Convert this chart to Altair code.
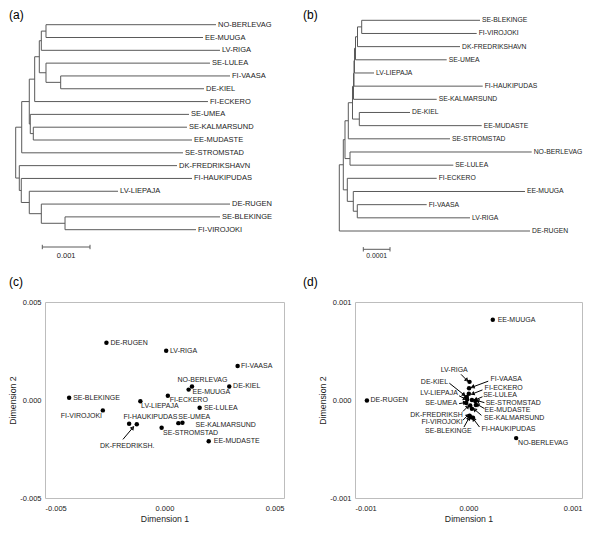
import math
import altair as alt
import pandas as pd

FONT = "Liberation Sans"
TXT = "#222222"

# ---------------- Tree (a): leaves top to bottom, distance from root ----------------
a_leaves = ["NO-BERLEVAG", "EE-MUUGA", "LV-RIGA", "SE-LULEA", "FI-VAASA", "DE-KIEL",
            "FI-ECKERO", "SE-UMEA", "SE-KALMARSUND", "EE-MUDASTE", "SE-STROMSTAD",
            "DK-FREDRIKSHAVN", "FI-HAUKIPUDAS", "LV-LIEPAJA", "DE-RUGEN", "SE-BLEKINGE",
            "FI-VIROJOKI"]
a_leaf_depth = [0.004199, 0.003927, 0.004283, 0.004073, 0.004493, 0.003948,
                0.004031, 0.003633, 0.003591, 0.003696, 0.003507,
                0.003382, 0.003696, 0.002145, 0.004493, 0.004283, 0.003780]
a_nodes = ["n1", "n4", "n3", "n2", "n5", "n6", "n7", "n8", "n9", "n10",
           "n15", "n14", "n13", "n12", "n11", "root"]
a_node_depth = [0.000635, 0.000943, 0.000635, 0.000537, 0.000495, 0.000398, 0.000369,
                0.000306, 0.000285, 0.000126, 0.001034, 0.000537, 0.000285, 0.000117,
                0.0000755, 0.0]
a_node_children = [["NO-BERLEVAG", "EE-MUUGA"], ["FI-VAASA", "DE-KIEL"], ["SE-LULEA", "n4"],
                   ["n1", "LV-RIGA"], ["n2", "n3"], ["n5", "FI-ECKERO"],
                   ["SE-KALMARSUND", "EE-MUDASTE"], ["SE-UMEA", "n7"], ["n6", "n8"],
                   ["n9", "SE-STROMSTAD"], ["SE-BLEKINGE", "FI-VIROJOKI"], ["DE-RUGEN", "n15"],
                   ["LV-LIEPAJA", "n14"], ["FI-HAUKIPUDAS", "n13"], ["DK-FREDRIKSHAVN", "n12"],
                   ["n10", "n11"]]
a_scale_len = 0.001
a_scale_label = "0.001"

# ---------------- Tree (b) ----------------
b_leaves = ["SE-BLEKINGE", "FI-VIROJOKI", "DK-FREDRIKSHAVN", "SE-UMEA", "LV-LIEPAJA",
            "FI-HAUKIPUDAS", "SE-KALMARSUND", "DE-KIEL", "EE-MUDASTE", "SE-STROMSTAD",
            "NO-BERLEVAG", "SE-LULEA", "FI-ECKERO", "EE-MUUGA", "FI-VAASA", "LV-RIGA",
            "DE-RUGEN"]
b_leaf_depth = [5.270e-4, 5.146e-4, 4.521e-4, 4.022e-4, 1.300e-4, 5.371e-4, 3.648e-4,
                2.648e-4, 5.333e-4, 4.146e-4, 7.206e-4, 4.270e-4, 3.648e-4, 6.955e-4,
                3.273e-4, 4.895e-4, 7.142e-4]
b_nodes = ["m1", "m2", "p1", "p2", "p3", "k1", "p4", "p5", "u", "l1", "l2",
           "vr", "mu", "mlow", "x", "root"]
b_node_depth = [8.39e-5, 6.82e-5, 6.07e-5, 5.69e-5, 5.51e-5, 7.49e-5, 5.32e-5, 4.94e-5,
                3.37e-5, 4.01e-5, 2.13e-5, 6.74e-5, 5.24e-5, 3.00e-5, 1.50e-5, 0.0]
b_node_children = [["SE-BLEKINGE", "FI-VIROJOKI"], ["m1", "DK-FREDRIKSHAVN"], ["m2", "SE-UMEA"],
                   ["p1", "LV-LIEPAJA"], ["p2", "FI-HAUKIPUDAS"], ["DE-KIEL", "EE-MUDASTE"],
                   ["p3", "SE-KALMARSUND"], ["p4", "k1"], ["p5", "SE-STROMSTAD"],
                   ["NO-BERLEVAG", "SE-LULEA"], ["u", "l1"], ["FI-VAASA", "LV-RIGA"],
                   ["EE-MUUGA", "vr"], ["FI-ECKERO", "mu"], ["l2", "mlow"], ["x", "DE-RUGEN"]]
b_scale_len = 0.0001
b_scale_label = "0.0001"

# ---------------- MDS (c) ----------------
c_names = ["DE-RUGEN", "LV-RIGA", "FI-VAASA", "NO-BERLEVAG", "EE-MUUGA", "DE-KIEL",
           "SE-BLEKINGE", "FI-ECKERO", "LV-LIEPAJA", "SE-LULEA", "FI-VIROJOKI",
           "FI-HAUKIPUDAS", "DK-FREDRIKSH.", "SE-UMEA", "SE-KALMARSUND", "SE-STROMSTAD",
           "EE-MUDASTE"]
c_dim1 = [-0.00243, 0.00007, 0.00306, 0.00115, 0.00101, 0.00271, -0.00399, 0.00014,
          -0.00101, 0.00147, -0.00258, -0.00148, -0.00116, 0.00058, 0.00075, -0.00012, 0.00185]
c_dim2 = [0.00292, 0.00251, 0.00173, 0.00069, 0.00053, 0.00069, 0.00011, 0.00022,
          -0.00006, -0.00040, -0.00053, -0.00121, -0.00124, -0.00118, -0.00116, -0.00142, -0.00211]
# label anchor (left edge of text)
c_lab1 = [-0.00226, 0.00023, 0.00320, 0.00054, 0.00117, 0.00287, -0.00382, 0.00022,
          -0.00098, 0.00165, -0.00434, -0.00172, -0.00270, 0.00058, 0.00130, -0.00006, 0.00206]
c_lab2 = [0.00292, 0.00251, 0.00173, 0.00100, 0.00040, 0.00069, 0.00011, -0.00001,
          -0.00033, -0.00040, -0.00082, -0.00085, -0.00233, -0.00085, -0.00128, -0.00167, -0.00211]
c_arrow = {"x": [-0.00174], "y": [-0.00201], "x2": [-0.00133], "y2": [-0.00142]}

# ---------------- MDS (d) ----------------
d_names = ["EE-MUUGA", "DE-RUGEN", "NO-BERLEVAG", "LV-RIGA", "FI-VAASA", "FI-ECKERO",
           "DE-KIEL", "LV-LIEPAJA", "SE-LULEA", "SE-STROMSTAD", "SE-UMEA", "EE-MUDASTE",
           "DK-FREDRIKSH", "SE-KALMARSUND", "FI-VIROJOKI", "SE-BLEKINGE", "FI-HAUKIPUDAS"]
d_dim1 = [0.000214, -0.000895, 0.000420, 0.000009, 0.000005, 0.000003, -0.000015, -0.000012,
          0.000030, 0.000060, -0.000020, 0.000065, 0.000015, 0.000030, 0.000010, 0.000020, 0.000040]
d_dim2 = [0.000818, -0.000004, -0.000389, 0.000185, 0.000120, 0.000063, 0.000030, 0.000005,
          0.000000, -0.000010, -0.000030, -0.000050, -0.000055, -0.000090, -0.000160, -0.000175, -0.000180]
d_lab1 = [0.000257, -0.000863, 0.000437, -0.000126, 0.000194, 0.000142, -0.000180, -0.000094,
          0.000129, 0.000151, -0.000100, 0.000142, -0.000051, 0.000137, -0.000051, 0.000028, 0.000114]
d_lab2 = [0.000818, -0.000004, -0.000439, 0.000302, 0.000212, 0.000123, 0.000185, 0.000073,
          0.000046, -0.000027, -0.000030, -0.000107, -0.000154, -0.000179, -0.000226, -0.000313, -0.000296]
d_lab_align = ["left", "left", "left", "center", "left", "left", "right", "right", "left",
               "left", "right", "left", "right", "left", "right", "right", "left"]
d_arrow_names = ["LV-RIGA", "FI-VAASA", "FI-ECKERO", "SE-LULEA", "SE-STROMSTAD", "EE-MUDASTE",
                 "SE-KALMARSUND", "FI-HAUKIPUDAS", "DE-KIEL", "LV-LIEPAJA", "SE-UMEA",
                 "DK-FREDRIKSH", "FI-VIROJOKI", "SE-BLEKINGE"]
d_arr_x1 = [-0.000066, 0.000174, 0.000123, 0.000123, 0.000140, 0.000140, 0.000114, 0.000097,
            -0.000169, -0.000083, -0.000083, -0.000049, -0.000049, -0.000040]
d_arr_y1 = [0.000262, 0.000192, 0.000103, 0.000033, -0.000027, -0.000087, -0.000157, -0.000276,
            0.000172, 0.000043, -0.000037, -0.000117, -0.000206, -0.000276]
d_arr_x2 = [-0.000015, 0.000037, 0.000037, 0.000063, 0.000080, 0.000080, 0.000054, 0.000045,
            -0.000040, -0.000032, -0.000032, -0.000006, -0.000006, 0.000003]
d_arr_y2 = [0.000202, 0.000133, 0.000063, 0.000003, -0.000007, -0.000047, -0.000097, -0.000196,
            0.000053, 0.000013, -0.000027, -0.000067, -0.000156, -0.000186]

# ---------------- layout (page pixels) ----------------
X0, Y0 = 45.0, 13.0          # expected page position of the first panel's plot area
W1, W2, H1, H2 = 239, 227, 251, 196
SC, SR = 71, 36
COL2 = X0 + W1 + SC
ROW2 = Y0 + H1 + SR


def lin(p0, v0, p1, v1, p):
    return v0 + (p - p0) * (v1 - v0) / (p1 - p0)


def tree_panel(leaves, leaf_depth, nodes, node_depth, children, px_root, px_unit, unit,
               py_first, py_last, left, fs, bar_px, bar_py, lab_py, bar_len, bar_label,
               title, title_dx, width):
    depth = dict(zip(leaves, leaf_depth))
    depth.update(zip(nodes, node_depth))
    ypos = {n: float(i) for i, n in enumerate(leaves)}
    for n, ch in zip(nodes, children):
        ypos[n] = (ypos[ch[0]] + ypos[ch[-1]]) / 2
    segs = []
    for n, ch in zip(nodes, children):
        segs.append(dict(x=depth[n], x2=depth[n], y=ypos[ch[0]], y2=ypos[ch[-1]]))
        for c in ch:
            segs.append(dict(x=depth[n], x2=depth[c], y=ypos[c], y2=ypos[c]))
    seg_df = pd.DataFrame(segs)
    leaf_df = pd.DataFrame({"name": leaves, "x": leaf_depth, "y": list(range(len(leaves)))})

    xdom = [lin(px_root, 0, px_root + px_unit, unit, left),
            lin(px_root, 0, px_root + px_unit, unit, left + width)]
    n = len(leaves) - 1
    ydom = [lin(py_first, 0, py_last, n, Y0 + H1), lin(py_first, 0, py_last, n, Y0)]
    xs = alt.Scale(domain=xdom, nice=False, zero=False)
    ys = alt.Scale(domain=ydom, nice=False, zero=False)

    bx = lin(px_root, 0, px_root + px_unit, unit, bar_px)
    by = lin(py_first, 0, py_last, n, bar_py)
    ly = lin(py_first, 0, py_last, n, lab_py)
    tk = lin(py_first, 0, py_last, n, bar_py + 2.2) - by
    bar_df = pd.DataFrame({"x": [bx], "x2": [bx + bar_len], "y": [by]})
    end_df = pd.DataFrame({"x": [bx, bx + bar_len], "y": [by - tk] * 2, "y2": [by + tk] * 2})
    lab_df = pd.DataFrame({"x": [bx + bar_len / 2], "y": [ly], "t": [bar_label]})

    X = lambda f="x": alt.X(f"{f}:Q", scale=xs, axis=None)
    Y = lambda f="y": alt.Y(f"{f}:Q", scale=ys, axis=None)
    rules = alt.Chart(seg_df).mark_rule(color="#5a5a5a", strokeWidth=1).encode(
        x=X(), x2="x2:Q", y=Y(), y2="y2:Q")
    labels = alt.Chart(leaf_df).mark_text(align="left", baseline="middle", dx=2, fontSize=fs,
                                          font=FONT, color=TXT).encode(x=X(), y=Y(), text="name:N")
    bar = alt.Chart(bar_df).mark_rule(color="#5a5a5a", strokeWidth=1).encode(x=X(), x2="x2:Q", y=Y())
    ends = alt.Chart(end_df).mark_rule(color="#5a5a5a", strokeWidth=1).encode(x=X(), y=Y(), y2="y2:Q")
    blab = alt.Chart(lab_df).mark_text(align="center", baseline="middle", fontSize=fs,
                                       font=FONT, color=TXT).encode(x=X(), y=Y(), text="t:N")
    return alt.layer(rules, labels, bar, ends, blab).properties(
        width=width, height=H1,
        title=alt.TitleParams(title, anchor="start", frame="group", dx=title_dx, offset=-7,
                              fontSize=12, fontWeight="normal", font=FONT, color="black"),
        view=alt.ViewBackground(stroke="transparent"))


tree_a = tree_panel(a_leaves, a_leaf_depth, a_nodes, a_node_depth, a_node_children,
                    15.7, 47.7, 0.001, 22.7, 227.7, X0, 7.5, 42.3, 245.0, 254.0,
                    a_scale_len, a_scale_label, "(a)", 9 - X0, W1)
tree_b = tree_panel(b_leaves, b_leaf_depth, b_nodes, b_node_depth, b_node_children,
                    339.3, 26.7, 0.0001, 18.3, 229.0, COL2, 6.8, 363.3, 247.3, 254.0,
                    b_scale_len, b_scale_label, "(b)", 303 - COL2, W2)


def axis(title, vals, label_pad, title_pad):
    return alt.Axis(values=vals, title=title, grid=False, ticks=False, domain=False,
                    labelExpr="(datum.value < 0 ? '-' : '') + format(abs(datum.value), '.3f')",
                    labelFontSize=7.5, titleFontSize=8.7, labelPadding=label_pad,
                    titlePadding=title_pad,
                    labelFont=FONT, titleFont=FONT, labelColor=TXT, titleColor=TXT,
                    titleFontWeight="normal")


def mds_panel(df, lim, width, title, title_dx, arrows, px_per_x, px_per_y):
    xs = alt.Scale(domain=[-lim, lim], nice=False, zero=False)
    ys = alt.Scale(domain=[-lim, lim], nice=False, zero=False)
    vals = [-lim, 0, lim]
    pts = alt.Chart(df).mark_circle(size=20, color="black", opacity=1).encode(
        x=alt.X("d1:Q", scale=xs, axis=axis("Dimension 1", vals, 6, 3)),
        y=alt.Y("d2:Q", scale=ys, axis=axis("Dimension 2", vals, 4, 2)))
    layers = [pts]
    for al in ["left", "center", "right"]:
        sub = df[df["align"] == al]
        if len(sub):
            layers.append(alt.Chart(sub).mark_text(align=al, baseline="middle", fontSize=7,
                                                   font=FONT, color=TXT).encode(
                x=alt.X("l1:Q", scale=xs), y=alt.Y("l2:Q", scale=ys), text="name:N"))
    if arrows is not None:
        ang = []
        for x1, y1, x2, y2 in zip(arrows["x"], arrows["y"], arrows["x2"], arrows["y2"]):
            dxp = (x2 - x1) * px_per_x
            dyp = -(y2 - y1) * px_per_y
            ang.append(math.degrees(math.atan2(dxp, -dyp)) % 360)
        adf = pd.DataFrame(arrows)
        adf["ang"] = ang
        layers.append(alt.Chart(adf).mark_rule(color="black", strokeWidth=1).encode(
            x=alt.X("x:Q", scale=xs), y=alt.Y("y:Q", scale=ys), x2="x2:Q", y2="y2:Q"))
        layers.append(alt.Chart(adf).mark_point(shape="triangle-up", size=9, filled=False,
                                                color="black", strokeWidth=1, opacity=1).encode(
            x=alt.X("x2:Q", scale=xs), y=alt.Y("y2:Q", scale=ys),
            angle=alt.Angle("ang:Q", scale=None)))
    return alt.layer(*layers).properties(
        width=width, height=H2,
        title=alt.TitleParams(title, anchor="start", frame="group", dx=title_dx, offset=9,
                              fontSize=12, fontWeight="normal", font=FONT, color="black"))


c_df = pd.DataFrame({"name": c_names, "d1": c_dim1, "d2": c_dim2, "l1": c_lab1, "l2": c_lab2,
                     "align": ["left"] * len(c_names)})
d_df = pd.DataFrame({"name": d_names, "d1": d_dim1, "d2": d_dim2, "l1": d_lab1, "l2": d_lab2,
                     "align": d_lab_align})
d_arrows = {"x": d_arr_x1, "y": d_arr_y1, "x2": d_arr_x2, "y2": d_arr_y2}

mds_c = mds_panel(c_df, 0.005, W1, "(c)", 9 - X0, c_arrow, W1 / 0.01, H2 / 0.01)
mds_d = mds_panel(d_df, 0.001, W2, "(d)", 303 - COL2, d_arrows, W2 / 0.002, H2 / 0.002)

chart = alt.concat(tree_a, tree_b, mds_c, mds_d, columns=2,
                   spacing={"row": SR, "column": SC}, bounds="flush").properties(
    padding=0
).configure_view(stroke="#bdbdbd", strokeWidth=1)

chart.save("out.html", embed_options={"renderer": "svg", "actions": False})
